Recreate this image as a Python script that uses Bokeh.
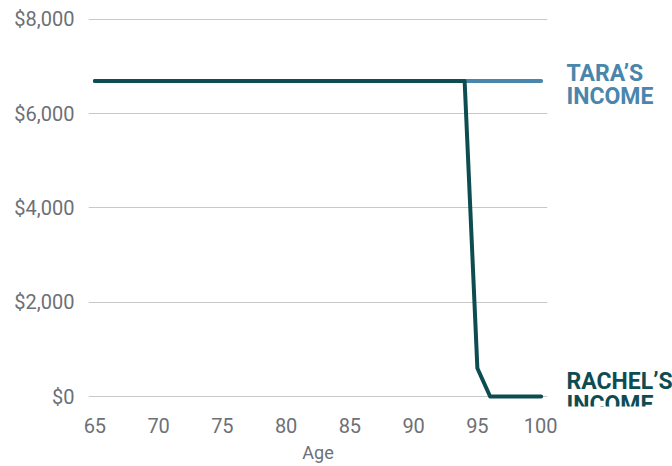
from bokeh.plotting import figure
from bokeh.models import Range1d, FixedTicker, NumeralTickFormatter
from bokeh.layouts import row
from bokeh.core.properties import value
from bokeh.embed import file_html
from bokeh.resources import INLINE

ages = [65, 94, 95, 96, 100]
tara_age = [65, 100]
tara_income = [6690, 6690]
rachel_income = [6690, 6690, 600, 0, 0]
x_ticks = [65, 70, 75, 80, 85, 90, 95, 100]
y_ticks = [0, 2000, 4000, 6000, 8000]
label_text = ["TARA’S", "INCOME", "RACHEL’S", "INCOME"]
label_y = [6848, 6360, 314, -174]

TEAL = "#0d4d52"
BLUE = "#4a86ab"
GRAY = "#6d7075"
label_col = [BLUE, BLUE, TEAL, TEAL]

yr = Range1d(-212, 8100)
p = figure(width=557, height=466, output_backend="svg", toolbar_location=None,
           x_range=Range1d(64.5, 100.5), y_range=yr,
           min_border_left=88, min_border_right=10, min_border_top=14, min_border_bottom=60)
p.outline_line_color = None

p.line(tara_age, tara_income, line_color=BLUE, line_width=4, line_cap="round", line_join="round")
p.line(ages, rachel_income, line_color=TEAL, line_width=4, line_cap="round", line_join="round")

p.xgrid.grid_line_color = None
p.ygrid.grid_line_color = "#c8c8c8"
p.ygrid.grid_line_width = 1.2

p.xaxis.ticker = FixedTicker(ticks=x_ticks)
p.yaxis.ticker = FixedTicker(ticks=y_ticks)
p.yaxis.formatter = NumeralTickFormatter(format="$0,0")
for ax in (p.xaxis[0], p.yaxis[0]):
    ax.axis_line_color = None
    ax.major_tick_line_color = None
    ax.minor_tick_line_color = None
    ax.major_label_text_font = "Roboto"
    ax.major_label_text_font_size = "20px"
    ax.major_label_text_color = GRAY
p.yaxis.major_label_standoff = 8
p.xaxis.major_label_standoff = 5
p.xaxis.axis_label = "Age"
p.xaxis.axis_label_text_font = "Roboto"
p.xaxis.axis_label_text_font_style = "normal"
p.xaxis.axis_label_text_font_size = "18px"
p.xaxis.axis_label_text_color = GRAY
p.xaxis.axis_label_standoff = 6

# side panel for the direct labels; its frame lines up with the main plot's frame
p2 = figure(width=115, height=466, output_backend="svg", toolbar_location=None, title=None,
            x_axis_type=None, y_axis_type=None,
            x_range=Range1d(0, 115), y_range=yr,
            min_border_left=0, min_border_right=0, min_border_top=14, min_border_bottom=60)
p2.outline_line_color = None
p2.grid.visible = False
p2.text(x=[9] * 4, y=label_y, text=label_text, text_color=label_col,
        text_font=value("Roboto"), text_font_style="bold",
        text_font_size="23px", text_baseline="alphabetic", text_align="left")

layout = row(p, p2, spacing=0)
open("out.html", "w").write(file_html(layout, INLINE))
